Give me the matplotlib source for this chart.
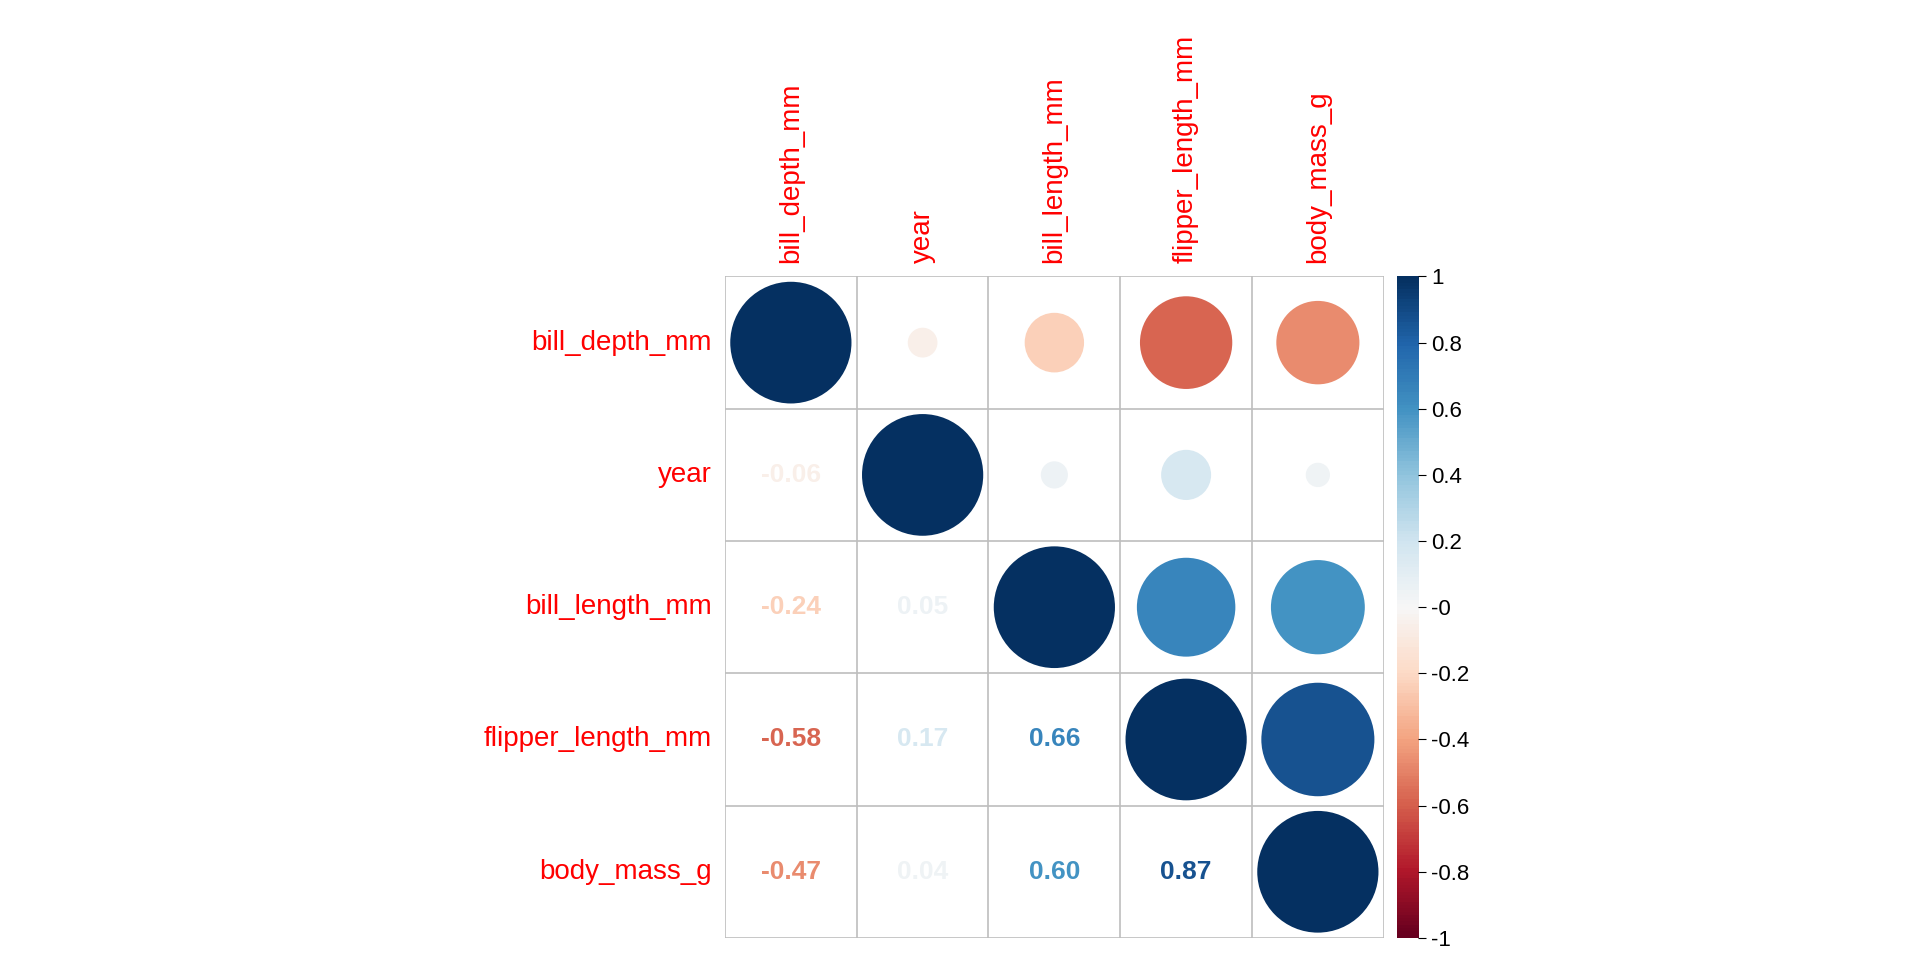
import numpy as np
import matplotlib
matplotlib.use("Agg")
import matplotlib.pyplot as plt
from matplotlib.patches import Circle
from matplotlib.colors import Normalize

plt.rcParams['font.family'] = ['Liberation Sans', 'DejaVu Sans']

names = ["bill_depth_mm", "year", "bill_length_mm", "flipper_length_mm", "body_mass_g"]
corr = np.array([
    [1.00, -0.06, -0.24, -0.58, -0.47],
    [-0.06, 1.00, 0.05, 0.17, 0.04],
    [-0.24, 0.05, 1.00, 0.66, 0.60],
    [-0.58, 0.17, 0.66, 1.00, 0.87],
    [-0.47, 0.04, 0.60, 0.87, 1.00],
])

cmap = plt.get_cmap("RdBu")
norm = Normalize(-1, 1)
n = len(names)

fig = plt.figure(figsize=(19.2, 9.6), dpi=100)
ax = fig.add_axes([0.3776, 0.023, 0.3431, 0.689])
ax.set_xlim(0, n)
ax.set_ylim(n, 0)
ax.axis("off")

for k in range(n + 1):
    ax.plot([k, k], [0, n], color="#bebebe", lw=1.2)
    ax.plot([0, n], [k, k], color="#bebebe", lw=1.2)

for i in range(n):
    for j in range(n):
        v = corr[i, j]
        if j >= i:
            ax.add_patch(Circle((j + 0.5, i + 0.5), 0.46 * np.sqrt(abs(v)),
                                color=cmap(norm(v)), lw=0))
        else:
            ax.text(j + 0.5, i + 0.5, f"{v:.2f}", ha="center", va="center",
                    fontsize=19, fontweight="bold", color=cmap(norm(v)))

for k, name in enumerate(names):
    ax.text(-0.1, k + 0.5, name, ha="right", va="center", color="red", fontsize=20)
    ax.text(k + 0.5, -0.1, name, ha="center", va="bottom", color="red",
            fontsize=20, rotation=90)

cax = fig.add_axes([0.7275, 0.023, 0.011, 0.689])
grad = np.linspace(-1, 1, 200).reshape(-1, 1)
cax.imshow(grad, aspect="auto", cmap=cmap, norm=norm, origin="lower",
           extent=[0, 1, -1, 1])
cax.set_xticks([])
cax.yaxis.tick_right()
ticks = np.round(np.arange(-1, 1.01, 0.2), 1)
cax.set_yticks(ticks)
cax.set_yticklabels([f"{t:g}" for t in ticks], fontsize=16)
cax.tick_params(axis="y", length=6)
for s in cax.spines.values():
    s.set_visible(False)

fig.savefig("out.png", dpi=100)
